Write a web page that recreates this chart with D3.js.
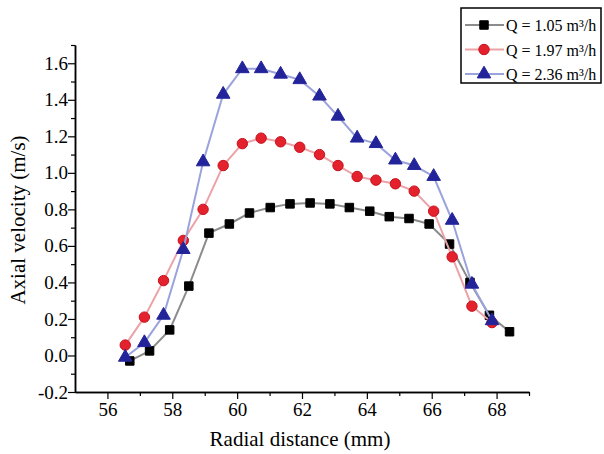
<!DOCTYPE html>
<html>

<head>
    <meta charset="utf-8">
    <style>
        body {
            margin: 0;
            background: #fff;
        }

        svg text {
            font-family: 'Liberation Serif', 'Times New Roman', Times, serif;
        }
    </style>
</head>

<body>
    <svg width="604" height="454"></svg>
</body>

<script src="https://d3js.org/d3.v7.min.js"></script>

<script>
    //------------------------1. DATA------------------------//
    // radial distance (mm) of each measuring point
    let xLow = [56.69, 57.30, 57.92, 58.51, 59.13, 59.76, 60.38, 61.02, 61.63, 62.25,
                62.86, 63.46, 64.09, 64.69, 65.30, 65.92, 66.55, 67.18, 67.78, 68.40]
    let xHigh = [56.55, 57.14, 57.73, 58.34, 58.95, 59.57, 60.16, 60.74, 61.34, 61.93,
                 62.54, 63.11, 63.70, 64.28, 64.88, 65.46, 66.06, 66.63, 67.24, 67.86]

    // axial velocity (m/s)
    let vel105 = [-0.03, 0.025, 0.14, 0.38, 0.67, 0.72, 0.78, 0.81, 0.83, 0.835,
                  0.83, 0.81, 0.79, 0.76, 0.75, 0.72, 0.61, 0.40, 0.22, 0.13]
    let vel197 = [0.057, 0.21, 0.41, 0.63, 0.80, 1.04, 1.16, 1.19, 1.17, 1.14,
                  1.10, 1.04, 0.98, 0.96, 0.94, 0.90, 0.79, 0.54, 0.27, 0.18]
    let vel236 = [-0.01, 0.07, 0.22, 0.58, 1.06, 1.43, 1.57, 1.57, 1.54, 1.51,
                  1.42, 1.31, 1.19, 1.16, 1.07, 1.04, 0.98, 0.74, 0.39, 0.19]

    let seriesNames = ["Q = 1.05 m³/h", "Q = 1.97 m³/h", "Q = 2.36 m³/h"]

    // tick labels
    let xTicks = [56, 58, 60, 62, 64, 66, 68]
    let xMinor = [57, 59, 61, 63, 65, 67, 69]
    let yTicks = [-0.2, 0.0, 0.2, 0.4, 0.6, 0.8, 1.0, 1.2, 1.4, 1.6]
    let yMinor = [-0.1, 0.1, 0.3, 0.5, 0.7, 0.9, 1.1, 1.3, 1.5, 1.7]

    //------------------------2. PREPARATION------------------------//
    let svg = d3.select("svg")
    let serif = "'Liberation Serif', 'Times New Roman', Times, serif"

    let x = d3.scaleLinear().domain([55, 69]).range([75, 529])
    let y = d3.scaleLinear().domain([-0.2, 1.7]).range([392, 45])

    let series = [
        {name: seriesNames[0], xs: xLow, ys: vel105, line: "#8c8c8c", fill: "#000000", stroke: "#000000", shape: d3.symbolSquare, size: 72},
        {name: seriesNames[1], xs: xHigh, ys: vel197, line: "#eba3a8", fill: "#e3222d", stroke: "#c8101c", shape: d3.symbolCircle, size: 85},
        {name: seriesNames[2], xs: xHigh, ys: vel236, line: "#9ba3dc", fill: "#24249a", stroke: "#24249a", shape: d3.symbolTriangle, size: 80}
    ]

    //------------------------3. AXES------------------------//
    let fmt = d => d3.format(".1f")(d).replace("−", "-")

    let yAxis = svg.append("g")
        .attr("transform", "translate(" + x(55) + ",0)")
        .call(d3.axisLeft(y).tickValues(yTicks).tickFormat(fmt).tickSize(7).tickSizeOuter(0))
    svg.append("g")
        .attr("transform", "translate(" + x(55) + ",0)")
        .call(d3.axisLeft(y).tickValues(yMinor).tickFormat("").tickSize(4).tickSizeOuter(0))

    let xAxis = svg.append("g")
        .attr("transform", "translate(0," + y(-0.2) + ")")
        .call(d3.axisBottom(x).tickValues(xTicks).tickFormat(d3.format("d")).tickSize(7).tickSizeOuter(0))
    svg.append("g")
        .attr("transform", "translate(0," + y(-0.2) + ")")
        .call(d3.axisBottom(x).tickValues(xMinor).tickFormat("").tickSize(4).tickSizeOuter(0))

    // d3 puts font-family="sans-serif" on the axis groups; swap it for the serif font
    svg.selectAll("g").attr("font-family", serif).attr("font-size", 19)
    svg.selectAll(".domain").style("stroke", "#000").style("stroke-width", 1.5)
    svg.selectAll(".tick line").style("stroke", "#000").style("stroke-width", 1.2)
    svg.selectAll(".tick text").style("fill", "#000")
    yAxis.selectAll(".tick text").attr("x", -7)
    xAxis.selectAll(".tick text").attr("y", 11)

    // axis titles
    svg.append("text")
        .attr("x", 300)
        .attr("y", 446)
        .attr("text-anchor", "middle")
        .style("font-size", "21px")
        .text("Radial distance (mm)")

    svg.append("text")
        .attr("transform", "translate(25,220) rotate(-90)")
        .attr("text-anchor", "middle")
        .style("font-size", "21px")
        .text("Axial velocity (m/s)")

    //------------------------4. LINES AND MARKERS------------------------//
    let line = d3.line()
        .x(d => x(d[0]))
        .y(d => y(d[1]))

    series.forEach(function(s) {
        let pts = s.xs.map((v, i) => [v, s.ys[i]])

        svg.append("path")
            .attr("d", line(pts))
            .style("fill", "none")
            .style("stroke", s.line)
            .style("stroke-width", 2)

        svg.append("g")
            .selectAll("path")
            .data(pts)
            .join("path")
            .attr("transform", d => "translate(" + x(d[0]) + "," + y(d[1]) + ")")
            .attr("d", d3.symbol().type(s.shape).size(s.size))
            .style("fill", s.fill)
            .style("stroke", s.stroke)
            .style("stroke-width", 1)
    })

    //------------------------5. LEGEND------------------------//
    let legend = svg.append("g")

    legend.append("rect")
        .attr("x", 461)
        .attr("y", 8)
        .attr("width", 140)
        .attr("height", 75)
        .style("fill", "#fff")
        .style("stroke", "#000")
        .style("stroke-width", 1.5)

    series.forEach(function(s, i) {
        let ly = 25 + i * 24.5
        legend.append("line")
            .attr("x1", 465)
            .attr("x2", 504)
            .attr("y1", ly)
            .attr("y2", ly)
            .style("stroke", s.line)
            .style("stroke-width", 2)
        legend.append("path")
            .attr("transform", "translate(484," + ly + ")")
            .attr("d", d3.symbol().type(s.shape).size(s.size))
            .style("fill", s.fill)
            .style("stroke", s.stroke)
        legend.append("text")
            .attr("x", 506)
            .attr("y", ly + 6)
            .style("font-size", "16px")
            .text(s.name)
    })
</script>

</html>
